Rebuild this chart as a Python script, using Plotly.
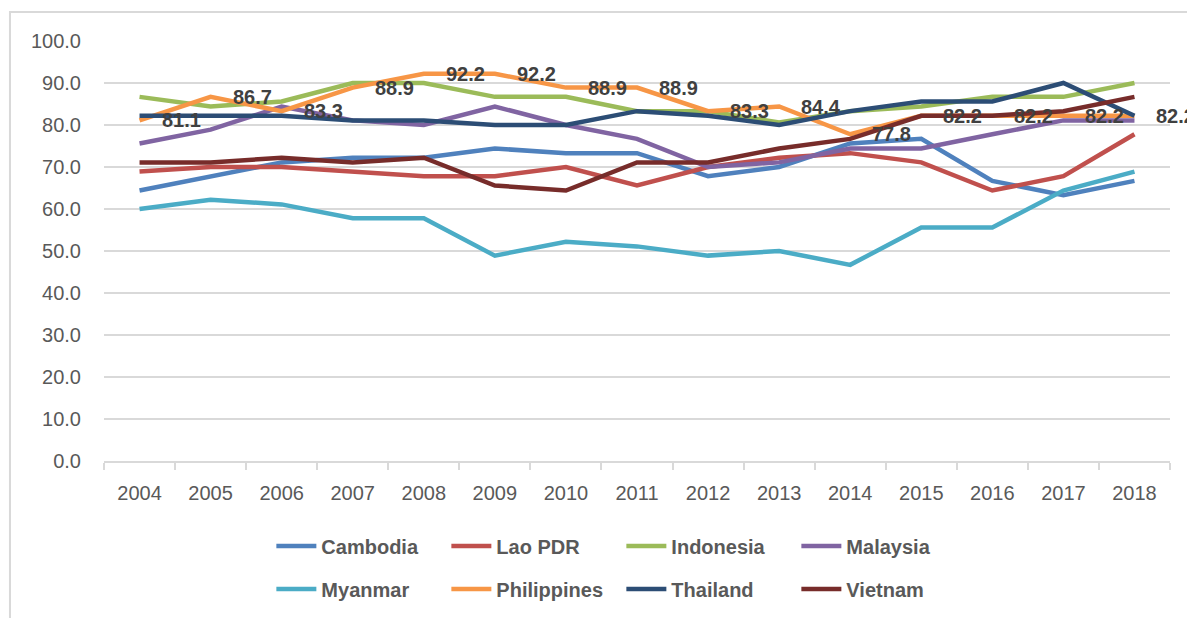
import plotly.graph_objects as go

years = [str(y) for y in range(2004, 2019)]

cambodia    = [64.4, 67.8, 71.1, 72.2, 72.2, 74.4, 73.3, 73.3, 67.8, 70.0, 75.6, 76.7, 66.7, 63.3, 66.7]
lao_pdr     = [68.9, 70.0, 70.0, 68.9, 67.8, 67.8, 70.0, 65.6, 70.0, 72.2, 73.3, 71.1, 64.4, 67.8, 77.8]
indonesia   = [86.7, 84.4, 85.6, 90.0, 90.0, 86.7, 86.7, 83.3, 83.3, 80.6, 83.3, 84.4, 86.7, 86.7, 90.0]
malaysia    = [75.6, 78.9, 84.4, 81.1, 80.0, 84.4, 80.0, 76.7, 70.0, 71.1, 74.4, 74.4, 77.8, 81.1, 81.1]
myanmar     = [60.0, 62.2, 61.1, 57.8, 57.8, 48.9, 52.2, 51.1, 48.9, 50.0, 46.7, 55.6, 55.6, 64.4, 68.9]
philippines = [81.1, 86.7, 83.3, 88.9, 92.2, 92.2, 88.9, 88.9, 83.3, 84.4, 77.8, 82.2, 82.2, 82.2, 82.2]
thailand    = [82.2, 82.2, 82.2, 81.1, 81.1, 80.0, 80.0, 83.3, 82.2, 80.0, 83.3, 85.6, 85.6, 90.0, 82.2]
vietnam     = [71.1, 71.1, 72.2, 71.1, 72.2, 65.6, 64.4, 71.1, 71.1, 74.4, 76.7, 82.2, 82.2, 83.3, 86.7]

series = [
    ("Cambodia", cambodia, "#4F81BD", "legend"),
    ("Lao PDR", lao_pdr, "#C0504D", "legend"),
    ("Indonesia", indonesia, "#9BBB59", "legend"),
    ("Malaysia", malaysia, "#8064A2", "legend"),
    ("Myanmar", myanmar, "#4BACC6", "legend2"),
    ("Philippines", philippines, "#F79646", "legend2"),
    ("Thailand", thailand, "#2C4D75", "legend2"),
    ("Vietnam", vietnam, "#772C2A", "legend2"),
]

FONT = "Liberation Sans, Arial, sans-serif"

fig = go.Figure()
for name, vals, color, leg in series:
    fig.add_trace(go.Scatter(
        x=years, y=vals, name=name, mode="lines",
        line=dict(color=color, width=4.5),
        legend=leg,
    ))

# data labels for Philippines (Excel "right" position)
for i, v in enumerate(philippines):
    fig.add_annotation(
        x=i, y=v, text=f"{v:.1f}", showarrow=False,
        xanchor="left", yanchor="middle", xshift=20,
        font=dict(family=FONT, size=20, color="#404040", weight="bold"),
    )

# chart border
fig.add_shape(type="rect", xref="paper", yref="paper",
              x0=-0.0882, x1=1.2, y0=-0.6, y1=1.069,
              line=dict(color="#D9D9D9", width=2), layer="below")

legend_common = dict(
    orientation="h", xanchor="left", yanchor="middle",
    font=dict(family=FONT, size=20, color="#595959", weight="bold"),
    entrywidth=120, entrywidthmode="pixels",
    bgcolor="rgba(0,0,0,0)", itemwidth=40, tracegroupgap=0,
)

fig.update_layout(
    width=1187, height=618,
    margin=dict(l=104, r=17, t=41, b=157, autoexpand=False),
    paper_bgcolor="white", plot_bgcolor="white",
    font=dict(family=FONT, size=20, color="#595959"),
    showlegend=True,
    legend=dict(x=0.157, y=-0.2025, **legend_common),
    legend2=dict(x=0.157, y=-0.305, **legend_common),
    xaxis=dict(
        type="category", range=[-0.5, 14.5], tickson="boundaries", ticks="outside",
        ticklen=7, tickcolor="#D9D9D9", tickwidth=1.5, tickangle=0,
        showline=True, linecolor="#D9D9D9", linewidth=1.5,
        showgrid=False, tickfont=dict(family=FONT, size=20, color="#595959"),
        ticklabelstandoff=13,
    ),
    yaxis=dict(
        range=[0, 100], dtick=10, tickformat=".1f",
        showgrid=True, gridcolor="#D9D9D9", gridwidth=1.5,
        zeroline=False, showline=False, ticks="",
        tickfont=dict(family=FONT, size=20, color="#595959"),
        ticklabelstandoff=22,
    ),
)

fig.write_html(
    "out.html",
    config={"displayModeBar": False},
    post_script="document.body.style.margin='0';document.body.style.overflow='hidden';",
)
